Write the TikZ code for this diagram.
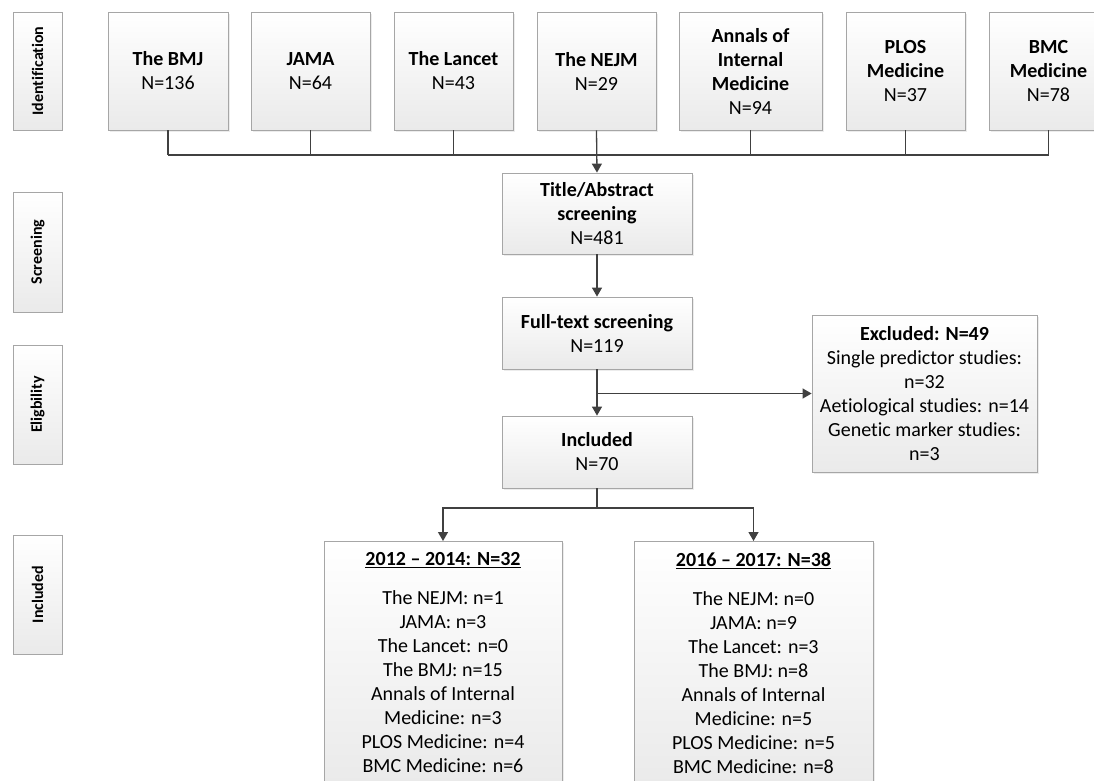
\documentclass[tikz,border=0pt]{standalone}
\usepackage{fontspec}
\setmainfont{Carlito}[Ligatures={NoCommon}]
\usetikzlibrary{arrows.meta,shadows}
\definecolor{linec}{HTML}{404040}
\definecolor{bordc}{HTML}{A6A6A6}
\definecolor{fillb}{HTML}{EAEAEA}
\tikzset{
  box/.style={draw=bordc, line width=0.8pt, top color=white, bottom color=fillb,
    inner sep=0pt, align=center, font=\fontsize{20}{24}\selectfont,
    drop shadow={opacity=0.15, shadow xshift=2pt, shadow yshift=-2pt}},
  phase/.style={draw=bordc, line width=0.8pt, top color=white, bottom color=fillb,
    inner sep=0pt, rotate=90, minimum height=49pt,
    font=\bfseries\fontsize{16}{19}\selectfont},
  conn/.style={draw=linec, line width=1.3pt},
  arr/.style={conn, -{Triangle[length=9pt,width=10pt]}},
}
\begin{document}
\begin{tikzpicture}[x=1pt,y=-1pt]
\useasboundingbox (0,0) rectangle (1094,780);
\clip (0,0) rectangle (1094,780);
% phase labels
\node[phase, minimum width=118pt] (pid) at (37.5,71) {Identification};
\node[phase, minimum width=120pt] (pscr) at (37.5,252) {Screening};
\node[phase, minimum width=119pt] (pelig) at (37.5,404.5) {Eligbility};
\node[phase, minimum width=119pt] (pincl) at (37.5,594.5) {Included};
% journals
\node[box, minimum width=120pt, minimum height=118pt] (bmj) at (168,71) {\textbf{The BMJ}\\N=136};
\node[box, minimum width=119pt, minimum height=118pt] (jama) at (310.5,71) {\textbf{JAMA}\\N=64};
\node[box, minimum width=119pt, minimum height=118pt] (lancet) at (453.5,71) {\textbf{The Lancet}\\N=43};
\node[box, minimum width=119pt, minimum height=118pt] (nejm) at (596.5,71) {\textbf{The NEJM}\\N=29};
\node[box, minimum width=143pt, minimum height=118pt] (annals) at (750.5,71) {\textbf{Annals of}\\\textbf{Internal}\\\textbf{Medicine}\\N=94};
\node[box, minimum width=119pt, minimum height=118pt] (plos) at (905.5,71) {\textbf{PLOS}\\\textbf{Medicine}\\N=37};
\node[box, minimum width=119pt, minimum height=118pt] (bmc) at (1048.5,71) {\textbf{BMC}\\\textbf{Medicine}\\N=78};
% flow
\node[box, minimum width=190pt, minimum height=81pt] (title) at (597,213.5) {\textbf{Title/Abstract}\\\textbf{screening}\\N=481};
\node[box, minimum width=190pt, minimum height=72pt] (full) at (597,333) {\textbf{Full-text screening}\\N=119};
\node[box, minimum width=190pt, minimum height=72pt] (incl) at (597,452) {\textbf{Included}\\N=70};
\node[box, minimum width=225pt, minimum height=157pt] (excl) at (924.5,393.5) {\textbf{Excluded: N=49}\\Single predictor studies:\\n=32\\Aetiological studies: n=14\\Genetic marker studies:\\n=3};
\node[box, minimum width=238pt, anchor=north, inner ysep=11pt] (left) at (443,541) {\underline{\textbf{2012 – 2014: N=32}}\\[15pt]The NEJM: n=1\\JAMA: n=3\\The Lancet: n=0\\The BMJ: n=15\\Annals of Internal\\Medicine: n=3\\PLOS Medicine: n=4\\BMC Medicine: n=6};
\node[box, minimum width=239pt, anchor=north, inner ysep=11pt] (right) at (753.5,541) {\underline{\textbf{2016 – 2017: N=38}}\\[15pt]The NEJM: n=0\\JAMA: n=9\\The Lancet: n=3\\The BMJ: n=8\\Annals of Internal\\Medicine: n=5\\PLOS Medicine: n=5\\BMC Medicine: n=8};
% connectors
\coordinate (bus) at (168,155);
\foreach \n in {bmj,jama,lancet,annals,plos,bmc}
  \draw[conn] (\n.south) -- (\n.south |- bus);
\draw[conn] (bus) -- (bus -| bmc.south);
\draw[arr] (nejm.south) -- (title.north);
\draw[arr] (title.south) -- (full.north);
\draw[arr] (full.south) -- (incl.north);
\coordinate (ex) at (597,393.5);
\draw[arr] (ex) -- (excl.west);
\coordinate (br) at (597,508);
\draw[conn] (incl.south) -- (br);
\draw[arr] (br) -| (left.north);
\draw[arr] (br) -| (right.north);
\end{tikzpicture}
\end{document}
